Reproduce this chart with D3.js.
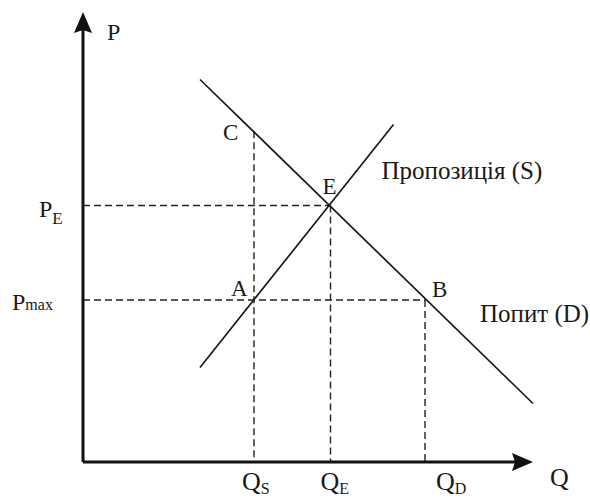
<!DOCTYPE html>
<html>
    <head>
        <meta charset="utf-8">
        <title>Supply and demand, price ceiling</title>
        <script src="https://d3js.org/d3.v7.min.js"></script>
        <style>
body {margin:0; background:#fff;}
#myCanvas {display:block; background:#fff;}
text {font-family: "Liberation Serif", "DejaVu Serif", serif; fill:#1a1a1a;}
        </style>
    </head>
    <body>
        <svg id="myCanvas" width="590" height="499"></svg>
        <script>
            // values (arbitrary units 0..10)
            var demand = [[2.6, 8.5], [10.0, 1.3]];
            var supply = [[2.6, 2.1], [6.9, 7.5]];
            var qS = 3.8, qE = 5.5, qD = 7.6;
            var pE = 5.7, pMax = 3.6;
            var points = [
                {name: "C", q: qS, p: 7.35},
                {name: "E", q: qE, p: pE},
                {name: "A", q: qS, p: pMax},
                {name: "B", q: qD, p: pMax}
            ];
            var curveNames = ["Пропозиція (S)", "Попит (D)"];
            var qTicks = [[qS, "S"], [qE, "E"], [qD, "D"]];

            var svg = d3.select("#myCanvas");
            var x = d3.scaleLinear([0, 10], [83, 533]);
            var y = d3.scaleLinear([0, 10], [462, 12]);
            var line = d3.line().x(d => x(d[0])).y(d => y(d[1]));

            // dashed guides
            var guides = [
                [[0, pE], [qE, pE]],
                [[0, pMax], [qD, pMax]],
                [[qS, 7.35], [qS, 0]],
                [[qE, pE], [qE, 0]],
                [[qD, pMax], [qD, 0]]
            ];
            svg.selectAll("path.guide")
                .data(guides)
                .join("path")
                .attr("class", "guide")
                .attr("d", line)
                .attr("fill", "none")
                .attr("stroke", "#222")
                .attr("stroke-width", 1.4)
                .attr("stroke-dasharray", "7,4");

            // curves
            svg.selectAll("path.curve")
                .data([supply, demand])
                .join("path")
                .attr("class", "curve")
                .attr("d", line)
                .attr("fill", "none")
                .attr("stroke", "#1a1a1a")
                .attr("stroke-width", 1.7);

            // axes with arrows
            var x0 = x(0), y0 = y(0), yTop = y(10), xEnd = x(10);
            svg.append("path")
                .attr("d", "M" + x0 + "," + y0 + "V" + (yTop + 18) + "M" + x0 + "," + y0 + "H" + (xEnd - 18))
                .attr("fill", "none")
                .attr("stroke", "#111")
                .attr("stroke-width", 3);
            svg.append("path")
                .attr("d", "M" + x0 + "," + yTop + "L" + (x0 - 9) + "," + (yTop + 21) + "L" + x0 + "," + (yTop + 18) + "L" + (x0 + 9) + "," + (yTop + 21) + "Z")
                .attr("fill", "#111");
            svg.append("path")
                .attr("d", "M" + xEnd + "," + y0 + "L" + (xEnd - 21) + "," + (y0 - 9) + "L" + (xEnd - 18) + "," + y0 + "L" + (xEnd - 21) + "," + (y0 + 9) + "Z")
                .attr("fill", "#111");

            svg.append("text").attr("x", x0 + 24).attr("y", yTop + 28).attr("font-size", 24).text("P");
            svg.append("text").attr("x", xEnd + 17).attr("y", y0 + 24).attr("font-size", 26).text("Q");

            // point letters
            var off = {C: [-31, 9], E: [-8, -12], A: [-23, -4], B: [7, -3]};
            svg.selectAll("text.pt")
                .data(points)
                .join("text")
                .attr("class", "pt")
                .attr("font-size", 23)
                .attr("x", d => x(d.q) + off[d.name][0])
                .attr("y", d => y(d.p) + off[d.name][1])
                .text(d => d.name);

            // curve names
            svg.append("text").attr("x", x(6.9) - 12).attr("y", y(7.5) + 54)
                .attr("font-size", 25).text(curveNames[0]);
            svg.append("text").attr("x", x(qD) + 55).attr("y", y(pMax) + 22)
                .attr("font-size", 25).text(curveNames[1]);

            // subscripted tick labels
            function sub(main, s, px, py, big, small, ds) {
                var t = svg.append("text").attr("x", px).attr("y", py).attr("font-size", big);
                t.append("tspan").text(main);
                t.append("tspan").attr("font-size", small).attr("dy", ds).text(s);
            }
            var qOff = [-12, -10, 11];
            qTicks.forEach((d, i) => sub("Q", d[1], x(d[0]) + qOff[i], y0 + 28, 26, 16, 4));
            sub("P", "E", x0 - 44, y(pE) + 11, 24, 17, 7);
            sub("P", "max", x0 - 71, y(pMax) + 10, 24, 16, 0);
        </script>
    </body>
</html>
